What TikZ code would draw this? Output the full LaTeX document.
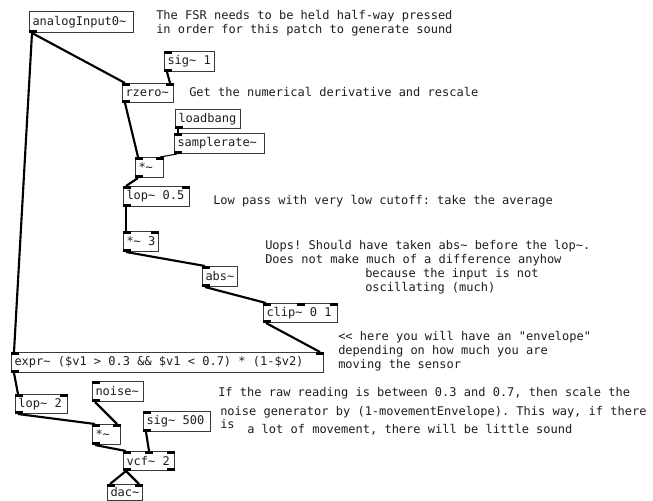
\documentclass[tikz,border=0pt]{standalone}
\usepackage{fontspec}
\setmonofont{DejaVu Sans Mono}
\usetikzlibrary{calc}
% one drawing unit = one screen pixel of the patch canvas
\newlength\pxu \setlength\pxu{0.75pt}
\newcommand\tld{\textasciitilde}
\definecolor{boxgray}{HTML}{3A3A3A}
\definecolor{inkgray}{HTML}{1E1E1E}
% an object box: name, left, top, width, height, text
\newcommand\pdobj[6]{\node[pdbox, minimum height=#5\pxu] (#1) at (#2,#3)
  {\makebox[\dimexpr #4\pxu-6\pxu\relax][l]{#6}};}
% inlets and outlets
\newcommand\inL[1]{\fill[port] (#1.north west) rectangle ++(8,3);}
\newcommand\inR[1]{\fill[port] (#1.north east) rectangle ++(-8,3);}
\newcommand\inM[1]{\fill[port] ($(#1.north)+(-4,0)$) rectangle ++(8,3);}
\newcommand\outL[1]{\fill[port] (#1.south west) rectangle ++(8,-3);}
\newcommand\outR[1]{\fill[port] (#1.south east) rectangle ++(-8,-3);}
\begin{document}
\begin{tikzpicture}[x=0.75pt,y=-0.75pt,
  pdfont/.style={font=\ttfamily\fontsize{9}{10.5}\selectfont},
  pdbox/.style={draw=boxgray, line width=0.75pt, anchor=north west,
    inner xsep=3\pxu, inner ysep=0pt, text=inkgray, pdfont},
  port/.style={fill=black},
  sigline/.style={draw=black, line width=1.6pt},
  ctlline/.style={draw=black, line width=0.8pt},
  note/.style={anchor=base west, inner sep=0pt, text=inkgray, pdfont}]
\fill[white] (0,0) rectangle (653,500);
\useasboundingbox (0,0) rectangle (653,500);

% ---- objects ----
\pdobj{ain}{29}{11}{104}{21}{analogInput0\tld}
\pdobj{sigone}{164}{51}{50}{20}{sig\tld{} 1}
\pdobj{rzero}{122}{83}{51}{19}{rzero\tld}
\pdobj{lbang}{175}{109}{65}{19}{loadbang}
\pdobj{srate}{174}{133}{90}{20}{samplerate\tld}
\pdobj{mulA}{135}{157}{28}{20}{*\tld}
\pdobj{lopA}{123}{186}{66}{20}{lop\tld{} 0.5}
\pdobj{mulB}{123}{231}{35}{20}{*\tld{} 3}
\pdobj{absv}{202}{266}{35}{20}{abs\tld}
\pdobj{clip}{263}{303}{74}{19}{clip\tld{} 0 1}
\pdobj{expr}{11}{352}{312}{20}{expr\tld{} (\$v1 > 0.3 \&\& \$v1 < 0.7) * (1-\$v2)}
\pdobj{lopB}{15}{394}{52}{19}{lop\tld{} 2}
\pdobj{noise}{92}{381}{51}{20}{noise\tld}
\pdobj{sigfive}{143}{411}{67}{20}{sig\tld{} 500}
\pdobj{mulC}{92}{424}{28}{20}{*\tld}
\pdobj{vcf}{123}{451}{51}{19}{vcf\tld{} 2}
\pdobj{dac}{107}{484}{35}{16}{dac\tld}

% ---- inlets / outlets ----
\outL{ain}
\inL{sigone}\outL{sigone}
\inL{rzero}\inR{rzero}\outL{rzero}
\outL{lbang}
\inL{srate}\outL{srate}
\inL{mulA}\inR{mulA}\outL{mulA}
\inL{lopA}\inR{lopA}\outL{lopA}
\inL{mulB}\inR{mulB}\outL{mulB}
\inL{absv}\outL{absv}
\inL{clip}\inM{clip}\inR{clip}\outL{clip}
\inL{expr}\inR{expr}\outL{expr}
\inL{lopB}\inR{lopB}\outL{lopB}
\inL{noise}\outL{noise}
\inL{sigfive}\outL{sigfive}
\inL{mulC}\inR{mulC}\outL{mulC}
\inL{vcf}\inM{vcf}\inR{vcf}\outL{vcf}\outR{vcf}
\inL{dac}\inR{dac}

% ---- connections ----
\draw[sigline] ($(ain.south west)+(3,0)$) -- ($(rzero.north west)+(3,0)$);
\draw[sigline] ($(ain.south west)+(3,0)$) -- ($(expr.north west)+(3,0)$);
\draw[sigline] ($(sigone.south west)+(3,0)$) -- ($(rzero.north east)+(-4,0)$);
\draw[sigline] ($(rzero.south west)+(3,0)$) -- ($(mulA.north west)+(3,0)$);
\draw[ctlline] ($(lbang.south west)+(3,0)$) -- ($(srate.north west)+(4,0)$);
\draw[ctlline] ($(srate.south west)+(3,0)$) -- ($(mulA.north east)+(-4,0)$);
\draw[sigline] ($(mulA.south west)+(3,0)$) -- ($(lopA.north west)+(3,0)$);
\draw[sigline] ($(lopA.south west)+(3,0)$) -- ($(mulB.north west)+(3,0)$);
\draw[sigline] ($(mulB.south west)+(3,0)$) -- ($(absv.north west)+(3,0)$);
\draw[sigline] ($(absv.south west)+(3,0)$) -- ($(clip.north west)+(3,0)$);
\draw[sigline] ($(clip.south west)+(3,0)$) -- ($(expr.north east)+(-4,0)$);
\draw[sigline] ($(expr.south west)+(3,0)$) -- ($(lopB.north west)+(3,0)$);
\draw[sigline] ($(lopB.south west)+(3,0)$) -- ($(mulC.north west)+(3,0)$);
\draw[sigline] ($(noise.south west)+(3,0)$) -- ($(mulC.north east)+(-4,0)$);
\draw[sigline] ($(mulC.south west)+(3,0)$) -- ($(vcf.north west)+(3,0)$);
\draw[sigline] ($(sigfive.south west)+(3,0)$) -- ($(vcf.north)+(0,0)$);
\draw[sigline] ($(vcf.south west)+(3,0)$) -- ($(dac.north west)+(3,0)$);
\draw[sigline] ($(vcf.south west)+(3,0)$) -- ($(dac.north east)+(-4,0)$);

% ---- comments ----
\node[note] (cfa) at (156,19) {The FSR needs to be held half-way pressed};
\node[note] (cfb) at (156,33) {in order for this patch to generate sound};
\node[note] (cd)  at (189,96) {Get the numerical derivative and rescale};
\node[note] (cl)  at (213,204) {Low pass with very low cutoff: take the average};
\node[note] (cua) at (265,249) {Uops! Should have taken abs\tld{} before the lop\tld.};
\node[note] (cub) at (265,263) {Does not make much of a difference anyhow};
\node[note] (cuc) at (365,277) {because the input is not};
\node[note] (cud) at (365,291) {oscillating (much)};
\node[note] (cea) at (338,340) {<< here you will have an "envelope"};
\node[note] (ceb) at (338,354) {depending on how much you are};
\node[note] (cec) at (338,368) {moving the sensor};
\node[note] (cra) at (218,396) {If the raw reading is between 0.3 and 0.7, then scale the};
\node[note] (crb) at (220,415) {noise generator by (1-movementEnvelope). This way, if there};
\node[note] (crc) at (220,428) {is};
\node[note] (crd) at (247,433) {a lot of movement, there will be little sound};
\end{tikzpicture}
\end{document}
